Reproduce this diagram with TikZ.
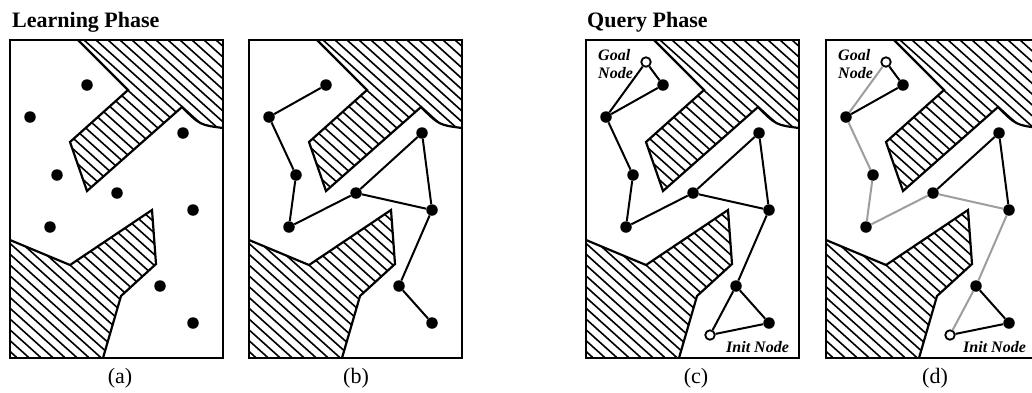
\documentclass[tikz,border=0pt]{standalone}
\usepackage{fontspec}
\setmainfont{Liberation Serif}
\newcommand\myobstacles{%
  \begin{scope}
    \clip (68,0) -- (118,50) -- (60,102) -- (77,151) -- (172,67) .. controls (190,85) .. (213,88) -- (213,0) -- cycle;
    \foreach \k in {-394,-382,...,214} \draw[hatch] (\k,0) -- ++(400,360);
  \end{scope}
  \begin{scope}
    \clip (0,200) -- (60,225) -- (142,170) -- (146,224) -- (111,256) -- (93,318) -- (0,318) -- cycle;
    \foreach \k in {-394,-382,...,214} \draw[hatch] (\k,0) -- ++(400,360);
  \end{scope}
  \draw[obst] (68,0) -- (118,50) -- (60,102) -- (77,151) -- (172,67) .. controls (190,85) .. (213,88);
  \draw[obst] (0,200) -- (60,225) -- (142,170) -- (146,224) -- (111,256) -- (93,318);
  \draw[frame] (0,0) rectangle (213,318);
}
\newcommand\mynodes[1]{%
  \node[dot] (#1n1) at (77,45) {};
  \node[dot] (#1n2) at (20,77) {};
  \node[dot] (#1n3) at (47,135) {};
  \node[dot] (#1n4) at (107,153) {};
  \node[dot] (#1n5) at (173,93) {};
  \node[dot] (#1n6) at (183,170) {};
  \node[dot] (#1n7) at (40,187) {};
  \node[dot] (#1n8) at (150,246) {};
  \node[dot] (#1n9) at (183,283) {};
}
\begin{document}
\begin{tikzpicture}[x=1pt,y=-1pt,
  frame/.style={line width=2.5pt},
  obst/.style={line width=2.2pt, line join=miter},
  hatch/.style={line width=1.6pt},
  dot/.style={circle, fill=black, inner sep=0pt, minimum size=11.5pt},
  opendot/.style={circle, draw=black, fill=white, line width=1.8pt, inner sep=0pt, minimum size=9.5pt},
  edge/.style={line width=2pt},
  gedge/.style={line width=2pt, draw=black!38},
  lbl/.style={font=\fontsize{16}{18}\selectfont\bfseries\itshape, inner sep=0pt, anchor=base west},
  titletxt/.style={font=\fontsize{22}{26}\selectfont\bfseries, inner sep=0pt, anchor=base west},
  captxt/.style={font=\fontsize{22}{26}\selectfont, inner sep=0pt, anchor=base}]
\useasboundingbox (0,0) rectangle (1032,392);
\fill[white] (0,0) rectangle (1032,392);

\node[titletxt] (t1) at (12,27) {Learning Phase};
\node[titletxt] (t2) at (587,27) {Query Phase};

% panel (a)
\begin{scope}[shift={(10,40)}]
  \myobstacles
  \mynodes{a}
\end{scope}

% panel (b)
\begin{scope}[shift={(249,40)}]
  \myobstacles
  \mynodes{b}
\end{scope}
\draw[edge] (bn1) -- (bn2) -- (bn3) -- (bn7) -- (bn4) -- (bn5) -- (bn6) -- (bn8) -- (bn9);
\draw[edge] (bn4) -- (bn6);

% panel (c)
\begin{scope}[shift={(586,40)}]
  \myobstacles
  \mynodes{c}
  \node[opendot] (cg) at (60,22) {};
  \node[opendot] (ci) at (124,295) {};
\end{scope}
\draw[edge] (cg) -- (cn1) -- (cn2) -- (cg);
\draw[edge] (cn2) -- (cn3) -- (cn7) -- (cn4) -- (cn5) -- (cn6) -- (cn8) -- (cn9) -- (ci) -- (cn8);
\draw[edge] (cn4) -- (cn6);
\node[lbl] (cgl1) at (598,60) {Goal};
\node[lbl] (cgl2) at (598,78) {Node};
\node[lbl] (cil) at (726,352) {Init Node};

% panel (d)
\begin{scope}[shift={(826,40)}]
  \myobstacles
  \mynodes{d}
  \node[opendot] (dg) at (60,22) {};
  \node[opendot] (di) at (124,295) {};
\end{scope}
\draw[gedge] (dg) -- (dn2) -- (dn3) -- (dn7) -- (dn4) -- (dn6) -- (dn8) -- (di);
\draw[edge] (dg) -- (dn1) -- (dn2);
\draw[edge] (dn4) -- (dn5) -- (dn6);
\draw[edge] (dn8) -- (dn9) -- (di);
\node[lbl] (dgl1) at (838,60) {Goal};
\node[lbl] (dgl2) at (838,78) {Node};
\node[lbl] (dil) at (963,352) {Init Node};

% captions
\node[captxt] (ca) at (120,383) {(a)};
\node[captxt] (cb) at (356,383) {(b)};
\node[captxt] (cc) at (696,383) {(c)};
\node[captxt] (cd) at (935,383) {(d)};
\end{tikzpicture}
\end{document}
